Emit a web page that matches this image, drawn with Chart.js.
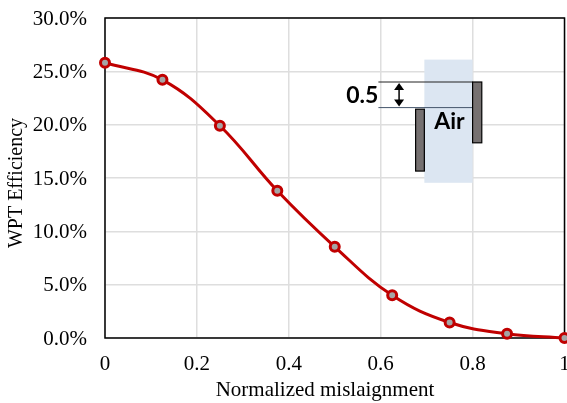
<!DOCTYPE html>
<html>
<head>
<meta charset="utf-8">
<title>WPT Efficiency</title>
<script src="https://cdn.jsdelivr.net/npm/chart.js@4"></script>
<style>
  html, body { margin: 0; padding: 0; background: #fff; overflow: hidden; }
  #wrap { width: 567px; height: 403px; overflow: hidden; }
</style>
</head>
<body>
<div id="wrap"><canvas id="chart" width="572" height="403"></canvas></div>
<script>
const misalignment = [0, 0.125, 0.25, 0.375, 0.5, 0.625, 0.75, 0.875, 1];
const efficiency = [25.8, 24.2, 19.9, 13.8, 8.55, 4.0, 1.45, 0.4, 0.0];
const xTicks = [0, 0.2, 0.4, 0.6, 0.8, 1];
const yTicks = [0, 5, 10, 15, 20, 25, 30];
const xTitle = 'Normalized mislaignment';
const yTitle = 'WPT Efficiency';

const serif = '"Liberation Serif", "Times New Roman", serif';
const sans = 'Lato, "Open Sans", sans-serif';

// Black frame round the plot, the axes only give two sides
const framePlugin = {
    id: 'frame',
    beforeDatasetsDraw(chart) {
        const { ctx, chartArea: a } = chart;
        ctx.save();
        ctx.strokeStyle = '#000';
        ctx.lineWidth = 1.5;
        ctx.strokeRect(a.left, a.top, a.right - a.left, a.bottom - a.top);
        ctx.restore();
    }
};

// Axis titles sit off centre in the original, so they are placed by hand
const titlesPlugin = {
    id: 'titles',
    afterDraw(chart) {
        const { ctx } = chart;
        ctx.save();
        ctx.fillStyle = '#000';
        ctx.textAlign = 'center';
        ctx.textBaseline = 'middle';
        ctx.font = '21px ' + serif;
        ctx.fillText(xTitle, 325, 390.5);
        ctx.translate(17, 183);
        ctx.rotate(-Math.PI / 2);
        ctx.font = '20px ' + serif;
        ctx.fillText(yTitle, 0, 0);
        ctx.restore();
    }
};

// The small air gap sketch inside the plot, placed in axis units
const insetPlugin = {
    id: 'inset',
    afterDatasetsDraw(chart) {
        const { ctx, scales } = chart;
        const px = v => scales.x.getPixelForValue(v);
        const py = v => scales.y.getPixelForValue(v);

        const box = (x0, x1, y0, y1, fill, stroke) => {
            ctx.fillStyle = fill;
            ctx.fillRect(px(x0), py(y0), px(x1) - px(x0), py(y1) - py(y0));
            if (stroke) {
                ctx.strokeStyle = stroke;
                ctx.lineWidth = 1.2;
                ctx.strokeRect(px(x0), py(y0), px(x1) - px(x0), py(y1) - py(y0));
            }
        };
        const line = (x0, y0, x1, y1, color) => {
            ctx.strokeStyle = color;
            ctx.lineWidth = 1;
            ctx.beginPath();
            ctx.moveTo(px(x0), py(y0));
            ctx.lineTo(px(x1), py(y1));
            ctx.stroke();
        };

        ctx.save();
        box(0.695, 0.8, 26.1, 14.55, '#dce6f2');
        line(0.595, 24.0, 0.8, 24.0, '#222');
        line(0.595, 21.6, 0.8, 21.6, '#44546a');
        box(0.8, 0.82, 24.0, 18.3, '#767171', '#000');
        box(0.676, 0.695, 21.45, 15.65, '#767171', '#000');

        // double headed arrow
        const ax = px(0.64), top = py(24.0), bottom = py(21.6);
        ctx.strokeStyle = '#000';
        ctx.lineWidth = 1.5;
        ctx.beginPath();
        ctx.moveTo(ax, top + 4);
        ctx.lineTo(ax, bottom - 4);
        ctx.stroke();
        ctx.fillStyle = '#000';
        [[top, 1], [bottom, -1]].forEach(([y, dir]) => {
            ctx.beginPath();
            ctx.moveTo(ax, y + dir);
            ctx.lineTo(ax - 5, y + dir * 8);
            ctx.lineTo(ax + 5, y + dir * 8);
            ctx.closePath();
            ctx.fill();
        });

        ctx.fillStyle = '#000';
        ctx.font = 'bold 23px ' + sans;
        ctx.textBaseline = 'middle';
        ctx.textAlign = 'right';
        ctx.fillText('0.5', px(0.595), py(22.75));
        ctx.textAlign = 'center';
        ctx.fillText('Air', px(0.7495), py(20.25));
        ctx.restore();
    }
};

new Chart(document.getElementById('chart'), {
    type: 'line',
    data: {
        datasets: [{
            data: misalignment.map((x, i) => ({ x, y: efficiency[i] })),
            borderColor: '#c00000',
            borderWidth: 3,
            tension: 0.4,
            pointRadius: 4.5,
            pointBorderWidth: 3,
            pointBackgroundColor: '#a5a5a5',
            pointBorderColor: '#c00000',
            clip: false
        }]
    },
    options: {
        responsive: false,
        animation: false,
        layout: { padding: { top: 18, right: 0, left: 0, bottom: 0 } },
        plugins: { legend: { display: false }, tooltip: { enabled: false } },
        scales: {
            x: {
                type: 'linear',
                min: 0,
                max: 1,
                afterFit: scale => {
                    scale.height = 65;
                    scale.paddingLeft = 0;
                    scale.paddingRight = 0;
                },
                afterBuildTicks: scale => { scale.ticks = xTicks.map(value => ({ value })); },
                grid: { color: '#dedede', lineWidth: 1.5, drawTicks: false },
                border: { display: false },
                ticks: {
                    color: '#000',
                    font: { family: serif, size: 21 },
                    padding: 14,
                    maxRotation: 0,
                    callback: v => String(v)
                }
            },
            y: {
                min: 0,
                max: 30,
                afterFit: scale => {
                    scale.width = 105;
                    scale.paddingTop = 0;
                    scale.paddingBottom = 0;
                },
                afterBuildTicks: scale => { scale.ticks = yTicks.map(value => ({ value })); },
                grid: { color: '#dedede', lineWidth: 1.5, drawTicks: false },
                border: { display: false },
                ticks: {
                    color: '#000',
                    font: { family: serif, size: 21 },
                    padding: 18,
                    labelOffset: 1,
                    callback: v => v.toFixed(1) + '%'
                }
            }
        }
    },
    plugins: [framePlugin, titlesPlugin, insetPlugin]
});
</script>
</body>
</html>
